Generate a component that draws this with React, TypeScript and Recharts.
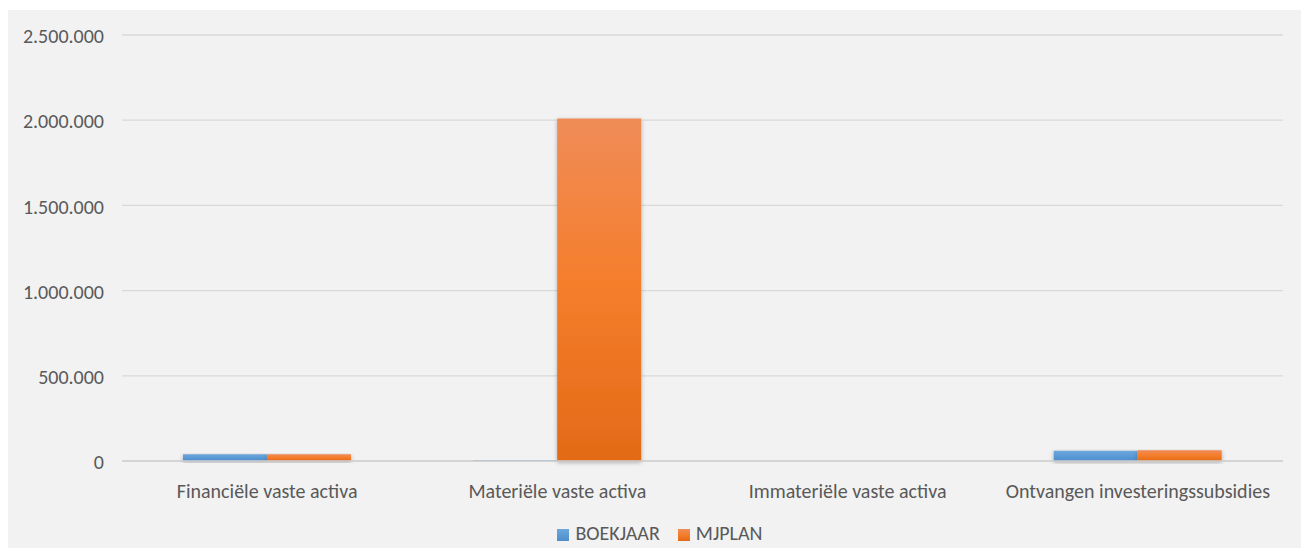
import { BarChart, Bar, XAxis, YAxis, CartesianGrid, Legend, Rectangle } from 'recharts';

const categories = [
  'Financiële vaste activa',
  'Materiële vaste activa',
  'Immateriële vaste activa',
  'Ontvangen investeringssubsidies',
];
const boekjaar = [40000, 4000, 0, 60000];
const mjplan = [40000, 2010000, 0, 63000];
const yTicks = [0, 500000, 1000000, 1500000, 2000000, 2500000];

const data = categories.map((name, i) => ({ name, BOEKJAAR: boekjaar[i], MJPLAN: mjplan[i] }));

const fmt = (v: number) => String(v).replace(/\B(?=(\d{3})+(?!\d))/g, '.');

const FONT = 'Carlito, Calibri, "Open Sans", "Noto Sans", sans-serif';

// bar with soft drop shadow like the Excel export
function ShadowBar(props: any) {
  return <Rectangle {...props} filter="url(#barShadow)" />;
}

export default function App() {
  return (
    <div style={{ marginLeft: -1, marginTop: 2, width: 1296, height: 538, background: '#f2f2f2' }}>
      <BarChart
        width={1296}
        height={538}
        data={data}
        margin={{ top: 25, right: 20, left: 0, bottom: 0 }}
        barCategoryGap="21%"
        barGap={0}
      >
        <defs>
          <linearGradient id="gBlue" x1="0" y1="0" x2="0" y2="1">
            <stop offset="0%" stopColor="#6ea6dc" />
            <stop offset="50%" stopColor="#5b9bd5" />
            <stop offset="100%" stopColor="#4e8ccc" />
          </linearGradient>
          <linearGradient id="gOrange" x1="0" y1="0" x2="0" y2="1">
            <stop offset="0%" stopColor="#f08c58" />
            <stop offset="48%" stopColor="#f47e2c" />
            <stop offset="100%" stopColor="#e36a17" />
          </linearGradient>
          <filter id="barShadow" x="-10%" y="-10%" width="120%" height="130%">
            <feDropShadow dx="0" dy="1.5" stdDeviation="2" floodColor="#000" floodOpacity="0.3" />
          </filter>
        </defs>
        <CartesianGrid vertical={false} stroke="#d9d9d9" strokeWidth={1.3} />
        <XAxis
          dataKey="name"
          stroke="#d0d0d0"
          strokeWidth={1.5}
          tickLine={false}
          tickMargin={17}
          height={60}
          tick={{ fill: '#595959', fontSize: 20, fontFamily: FONT }}
          interval={0}
        />
        <YAxis
          width={115}
          domain={[0, 2500000]}
          ticks={yTicks}
          tickFormatter={fmt}
          axisLine={false}
          tickLine={false}
          tickSize={0}
          tickMargin={18}
          tick={{ fill: '#595959', fontSize: 20, fontFamily: FONT, dy: 1 }}
        />
        <Legend
          verticalAlign="bottom"
          iconType="square"
          iconSize={12}
          height={27}
          wrapperStyle={{ fontFamily: FONT, fontSize: 20, color: '#595959', lineHeight: '24px', paddingLeft: 24 }}
          formatter={(v: string) => <span style={{ color: '#595959', marginLeft: 2, marginRight: 8 }}>{v}</span>}
        />
        <Bar dataKey="BOEKJAAR" fill="url(#gBlue)" shape={ShadowBar} isAnimationActive={false} legendType="square" />
        <Bar dataKey="MJPLAN" fill="url(#gOrange)" shape={ShadowBar} isAnimationActive={false} legendType="square" />
      </BarChart>
    </div>
  );
}
